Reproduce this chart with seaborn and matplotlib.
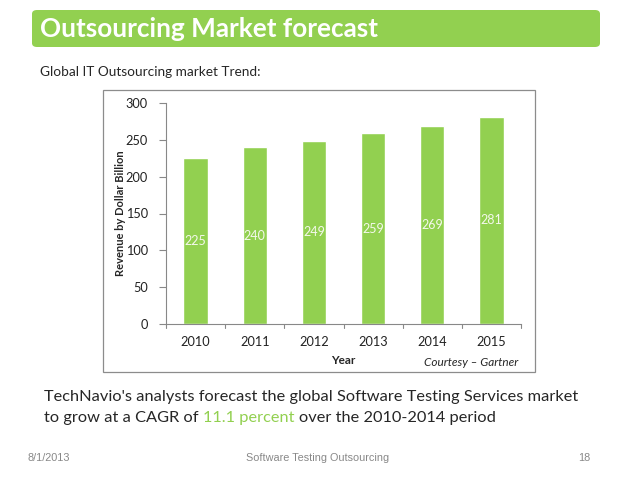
import matplotlib
matplotlib.use("Agg")
import matplotlib.pyplot as plt
from matplotlib.patches import FancyBboxPatch, Rectangle
import pandas as pd
import seaborn as sns

years = ["2010", "2011", "2012", "2013", "2014", "2015"]
revenue = [225, 240, 249, 259, 269, 281]
y_ticks = [0, 50, 100, 150, 200, 250, 300]

GREEN = "#92D050"
W, H = 638, 479

sns.set_style("white")
plt.rcParams["font.family"] = ["Lato", "DejaVu Sans"]

fig = plt.figure(figsize=(W / 100, H / 100), dpi=100)


def fx(px):
    return px / W


def fy(py):
    return 1 - py / H


# title banner
fig.patches.append(FancyBboxPatch((fx(32), fy(47)), fx(568), 37 / H,
                                  boxstyle="round,pad=0,rounding_size=0.008",
                                  transform=fig.transFigure, facecolor=GREEN,
                                  edgecolor="none", zorder=-2))
fig.text(fx(40), fy(29), "Outsourcing Market forecast", color="white",
         fontsize=18.8, fontweight="bold", va="center", ha="left")
fig.text(fx(40), fy(72), "Global IT Outsourcing market Trend:", fontsize=9.8,
         va="center", ha="left")

# chart frame
fig.patches.append(Rectangle((fx(103), fy(372)), fx(432), 282 / H,
                             transform=fig.transFigure, facecolor="white",
                             edgecolor="#8c8c8c", linewidth=0.9, zorder=-1))

ax = fig.add_axes([fx(166), fy(324), fx(355), 221 / H], zorder=2)
df = pd.DataFrame({"Year": years, "Revenue": revenue})
sns.barplot(data=df, x="Year", y="Revenue", color=GREEN, saturation=1,
            width=0.41, ax=ax)
ax.set_xlim(-0.5, len(years) - 0.5)
ax.set_ylim(0, 300)
ax.set_yticks(y_ticks)
ax.tick_params(axis="both", labelsize=9.2, colors="#222222")
ax.tick_params(axis="x", length=0, pad=9)
ax.tick_params(axis="y", length=5, pad=8, direction="out", left=True,
               color="#888888")
for b in [i - 0.5 for i in range(len(years) + 1)]:
    ax.plot([b, b], [0, -6], color="#888888", lw=0.8, clip_on=False)
for side in ["top", "right"]:
    ax.spines[side].set_visible(False)
for side in ["left", "bottom"]:
    ax.spines[side].set_color("#888888")
    ax.spines[side].set_linewidth(0.8)
ax.patch.set_alpha(0)

for i, v in enumerate(revenue):
    ax.text(i, v / 2, str(v), ha="center", va="center", color="#f4f8ec",
            fontsize=9)

ax.set_xlabel("Year", fontsize=8.5, fontweight="bold", labelpad=5)
ax.set_ylabel("")
fig.text(fx(120), fy(213), "Revenue by Dollar Billion", rotation=90,
         fontsize=8, fontweight="bold", ha="center", va="center")
fig.text(fx(518), fy(363), "Courtesy \u2013 Gartner", fontsize=8.5,
         style="italic", ha="right", va="center")

# body text
fs = 11.8
fig.text(fx(44), fy(397), "TechNavio's analysts forecast the global Software Testing Services market",
         fontsize=fs, ha="left", va="center")
t1 = fig.text(fx(44), fy(418), "to grow at a CAGR of ", fontsize=fs,
              ha="left", va="center")
fig.canvas.draw()
r = fig.canvas.get_renderer()
bb = t1.get_window_extent(r)
t2 = fig.text(bb.x1 / W, fy(418), "11.1 percent", fontsize=fs, color=GREEN,
              ha="left", va="center")
bb2 = t2.get_window_extent(r)
fig.text(bb2.x1 / W + 4.5 / W, fy(418), "over the 2010-2014 period", fontsize=fs,
         ha="left", va="center")

# footer
for x, s, ha in [(28, "8/1/2013", "left"), (318, "Software Testing Outsourcing", "center"),
                 (590, "18", "right")]:
    fig.text(fx(x), fy(458), s, fontsize=7.8, color="#888888", ha=ha, va="center",
             family="Liberation Sans")

fig.savefig("out.png", dpi=100)
